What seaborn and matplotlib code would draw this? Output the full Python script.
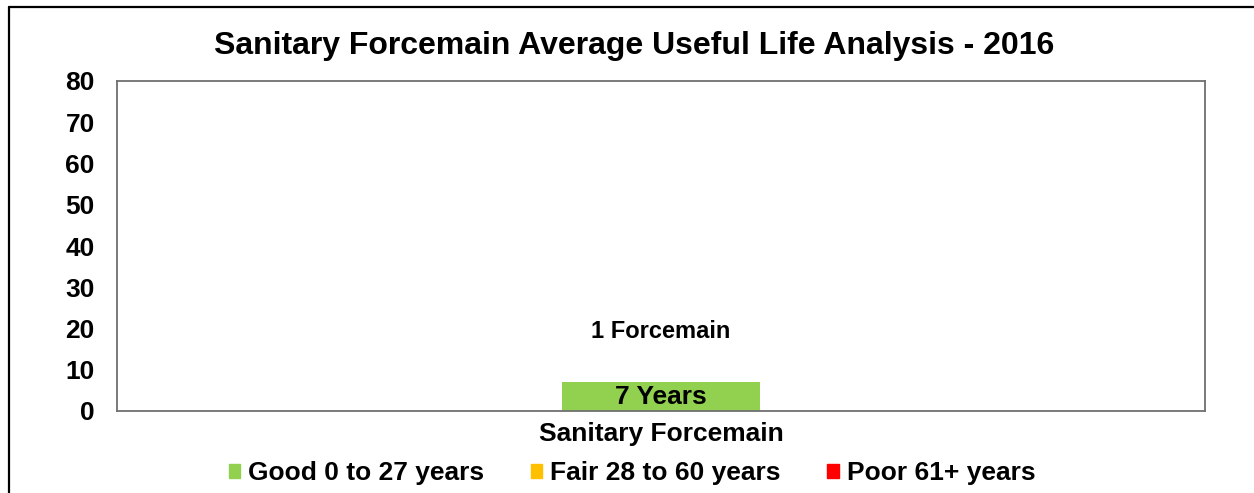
import matplotlib
matplotlib.use("Agg")
import matplotlib.pyplot as plt
import matplotlib.patches as mpatches
from matplotlib.lines import Line2D
import seaborn as sns

# data
categories = ["Sanitary Forcemain"]
series_names = ["Good 0 to 27 years", "Fair 28 to 60 years", "Poor 61+ years"]
good_vals = [7]
fair_vals = [0]
poor_vals = [0]
bar_labels = ["7 Years"]
count_labels = ["1 Forcemain"]
count_label_y = [19.3]
colors = ["#92D050", "#FFC000", "#FF0000"]

sns.set_theme(style="white")
plt.rcParams["font.family"] = ["Liberation Sans", "DejaVu Sans"]
plt.rcParams["font.weight"] = "bold"
plt.rcParams["text.color"] = "black"
plt.rcParams["xtick.color"] = "black"
plt.rcParams["ytick.color"] = "black"

fig = plt.figure(figsize=(12.54, 4.93), dpi=100)
ax = fig.add_axes([117 / 1254, 1 - 411 / 493, (1205 - 117) / 1254, (411 - 81) / 493])

# stacked bars
bottom = [0] * len(categories)
for vals, c in zip([good_vals, fair_vals, poor_vals], colors):
    sns.barplot(x=categories, y=vals, bottom=bottom, color=c, width=0.182,
                saturation=1, ax=ax, linewidth=0)
    bottom = [b + v for b, v in zip(bottom, vals)]

for i, (lab, v) in enumerate(zip(bar_labels, good_vals)):
    ax.text(i, v / 2, lab, ha="center", va="center", fontsize=19, fontweight="bold", color="black")
for i, (lab, y) in enumerate(zip(count_labels, count_label_y)):
    ax.text(i, y, lab, ha="center", va="center", fontsize=17, fontweight="bold", color="black")

ax.set_xlim(-0.5, 0.5)
ax.set_ylim(0, 80)
ax.set_yticks(range(0, 81, 10))
ax.tick_params(axis="both", length=0, labelsize=19, pad=8)
ax.tick_params(axis="y", pad=16)
for t in ax.get_xticklabels() + ax.get_yticklabels():
    t.set_fontweight("bold")
ax.set_xlabel("")
ax.set_ylabel("")
for s in ax.spines.values():
    s.set_color("#707070")
    s.set_linewidth(1.3)
    s.set_visible(True)

fig.suptitle("Sanitary Forcemain Average Useful Life Analysis - 2016", x=634 / 1254,
             y=1 - 46 / 493, va="center", fontsize=23, fontweight="bold")

handles = [mpatches.Patch(color=c, label=n) for c, n in zip(colors, series_names)]
fig.legend(handles=handles, loc="center", bbox_to_anchor=(632 / 1254, 1 - 473 / 493),
           ncol=3, frameon=False, handlelength=0.45, handleheight=0.45,
           handletextpad=0.3, columnspacing=1.75, prop={"weight": "bold", "size": 19})

# outer chart border
fig.add_artist(Line2D([8.5 / 1254, 8.5 / 1254], [0, 1 - 6.5 / 493], color="black", lw=1.6))
fig.add_artist(Line2D([8.5 / 1254, 1], [1 - 6.5 / 493, 1 - 6.5 / 493], color="black", lw=1.6))

fig.savefig("out.png", dpi=100)
